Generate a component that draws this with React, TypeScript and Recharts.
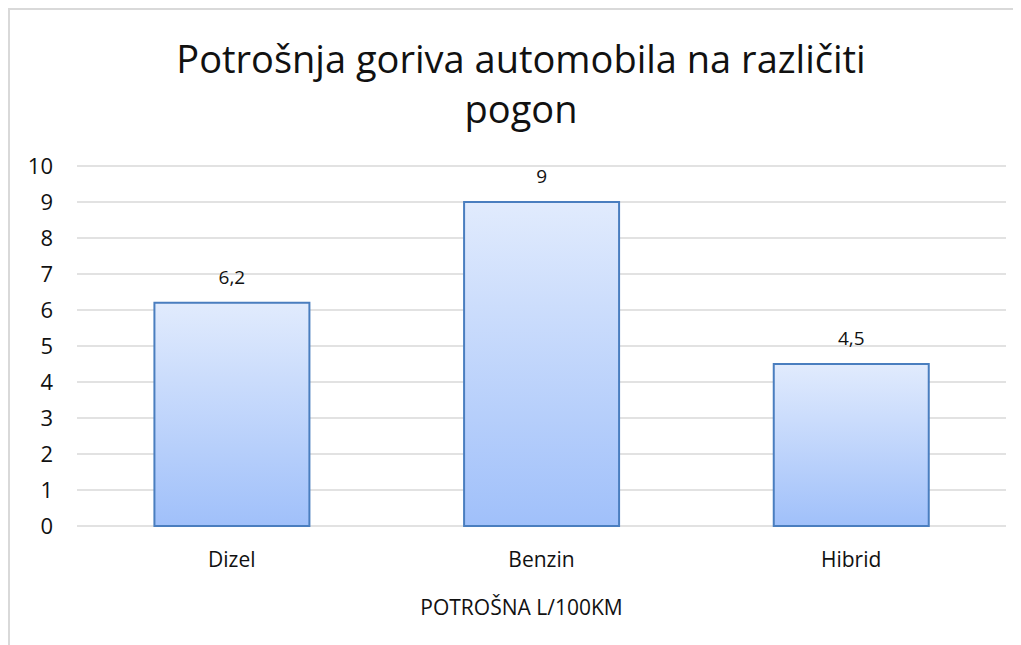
import { BarChart, Bar, XAxis, YAxis, CartesianGrid, LabelList } from 'recharts';

const categories = ['Dizel', 'Benzin', 'Hibrid'];
const consumption = [6.2, 9, 4.5];
const yTicks = [0, 1, 2, 3, 4, 5, 6, 7, 8, 9, 10];

const data = categories.map((name, i) => ({ name, value: consumption[i] }));

const FONT = '"Open Sans", "Liberation Sans", sans-serif';
const TEXT = '#111';

export default function App() {
  return (
    <div
      style={{
        position: 'relative',
        width: 1013,
        height: 637,
        boxSizing: 'border-box',
        borderTop: '2px solid #d9d9d9',
        borderLeft: '2px solid #d9d9d9',
        fontFamily: FONT,
        background: '#fff',
      }}
    >
      <div
        style={{
          position: 'absolute',
          left: 0,
          top: 23,
          width: 1022,
          textAlign: 'center',
          fontSize: 38,
          lineHeight: '50px',
          color: TEXT,
        }}
      >
        Potrošnja goriva automobila na različiti
        <br />
        pogon
      </div>
      <BarChart
        width={1011}
        height={635}
        data={data}
        margin={{ top: 156, right: 15, bottom: 0, left: 0 }}
        barCategoryGap="25%"
        style={{ position: 'absolute', left: 0, top: 0 }}
      >
        <defs>
          <linearGradient id="barFill" x1="0" y1="0" x2="0" y2="1">
            <stop offset="0%" stopColor="#e1ebfd" />
            <stop offset="100%" stopColor="#a0c0fa" />
          </linearGradient>
        </defs>
        <CartesianGrid vertical={false} stroke="#d9d9d9" strokeWidth={1.5} />
        <XAxis
          dataKey="name"
          height={119}
          axisLine={false}
          tickLine={false}
          tickSize={0}
          tickMargin={26}
          tick={{ fontSize: 21, fill: TEXT, fontFamily: FONT }}
          label={{
            value: 'POTROŠNA L/100KM',
            position: 'insideTop',
            offset: 74,
            dx: -20,
            fontSize: 21,
            fill: TEXT,
            fontFamily: FONT,
          }}
        />
        <YAxis
          domain={[0, 10]}
          ticks={yTicks}
          interval={0}
          width={67}
          axisLine={false}
          tickLine={false}
          tickSize={0}
          tickMargin={24}
          tick={{ fontSize: 22, fill: TEXT, fontFamily: FONT }}
        />
        <Bar
          dataKey="value"
          fill="url(#barFill)"
          stroke="#4a7ebf"
          strokeWidth={2}
          isAnimationActive={false}
        >
          <LabelList
            dataKey="value"
            position="top"
            offset={19}
            formatter={(v: any) => String(v).replace('.', ',')}
            style={{ fontSize: 19, fill: TEXT, fontFamily: FONT }}
          />
        </Bar>
      </BarChart>
    </div>
  );
}
